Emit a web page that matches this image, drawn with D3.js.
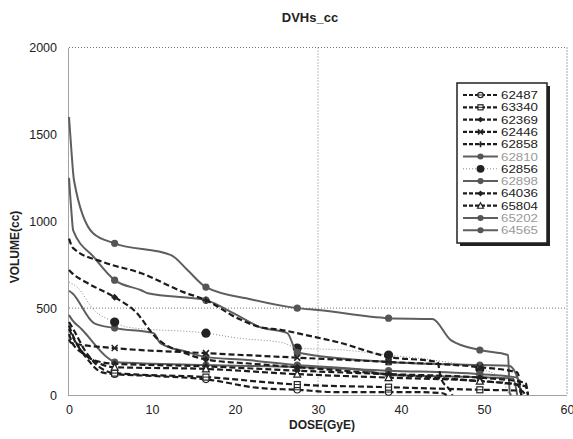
<!DOCTYPE html>
<html><head><meta charset="utf-8">
<script src="https://cdn.jsdelivr.net/npm/d3@7"></script>
<style>body{margin:0;background:#fff}svg{display:block}text{font-family:"Liberation Sans",Arial,sans-serif}</style>
</head><body><svg id="c" width="573" height="439"></svg>
<script>
// ---- data (dose GyE, volume cc) ----
const seriesNames = ["62487","63340","62369","62446","62858","62810","62856","62898","64036","65804","65202","64565"];
const seriesStyles = ["dash","dash","dash","dash","dash","solid","dot","solid","dash","dash","solid","solid"];
const seriesMarkers = ["ocircle","square","diamond","cross","plus","dotg","bigdot","dotg","diamond","triangle","dotg","dotg"];
const s62487 = [[0,380],[0.5,330],[2,220],[4,130],[5.5,120],[10,110],[16.5,90],[23,40],[27.5,30],[32,17],[38.5,17],[41.5,17],[45,10],[45.5,0]];
const s63340 = [[0,420],[0.5,380],[2,250],[4,150],[5.5,126],[16.5,103],[27.5,60],[38.5,45],[49.5,30],[54.5,25],[55,0]];
const s62369 = [[0,400],[0.4,350],[3,200],[5.5,180],[16.5,165],[27.5,140],[38.5,120],[49.5,100],[55,70],[55.3,0]];
const s62446 = [[0,320],[0.3,299],[5.5,270],[16.5,241],[27.5,215],[38.5,190],[49.5,160],[54,130],[54.5,0]];
const s62858 = [[0,900],[0.5,845],[4.2,764],[8.7,701],[13.8,592],[16.5,546],[20.3,442],[23,391],[25.5,375],[29,340],[32.3,305],[38.5,220],[44.4,190],[44.8,98],[46,20],[46.2,0]];
const s62810 = [[0,600],[0.4,586],[3,414],[5.5,385],[10.2,356],[11,299],[14.3,247],[16.5,218],[21.5,201],[27.5,172],[35.5,144],[38.5,115],[49.5,103],[53.5,95],[54,0]];
const s62856 = [[0,650],[1,620],[3,489],[5.5,420],[7,391],[16.5,356],[20.3,328],[25.8,300],[27.5,270],[33,259],[38.5,230],[44,200],[49.5,150],[52,100],[53,0]];
const s62898 = [[0,460],[0.4,431],[1.5,380],[4.7,213],[5.5,190],[16.5,172],[27.5,161],[38.5,140],[49.5,120],[54,100],[54.5,0]];
const s64036 = [[0,720],[0.4,700],[2,650],[5.5,563],[8,480],[10.5,330],[14,240],[16.5,205],[22,180],[27.5,160],[33,140],[38.5,120],[44,100],[49.5,80],[54,60],[54.5,0]];
const s65804 = [[0,350],[0.4,300],[2,230],[4,175],[5.5,160],[16.5,150],[27.5,120],[38.5,100],[49.5,80],[55,50],[55.3,0]];
const s65202 = [[0,1250],[0.3,1050],[0.5,948],[3,793],[5.5,661],[8.7,603],[9.5,586],[16.5,546],[19.8,471],[23,391],[26.3,356],[27.5,245],[38.5,190],[49.5,172],[53,168],[54,103],[54.5,0]];
const s64565 = [[0,1600],[0.3,1400],[0.6,1236],[2.9,931],[5.5,873],[12.3,805],[14.3,718],[16.5,621],[22,550],[27.5,500],[30,489],[38.5,442],[43.8,437],[46,316],[49.5,259],[52.9,230],[53.1,10],[53.3,0]];
const seriesData = [s62487,s63340,s62369,s62446,s62858,s62810,s62856,s62898,s64036,s65804,s65202,s64565];
const markerDoses = [5.5,16.5,27.5,38.5,49.5];
const xTicks = [0,10,20,30,40,50,60];
const yTicks = [0,500,1000,1500,2000];
const titleText = "DVHs_cc", xTitle = "DOSE(GyE)", yTitle = "VOLUME(cc)";

// ---- drawing ----
const svg = d3.select("#c");
const x = d3.scaleLinear().domain([0,60]).range([69,567]);
const y = d3.scaleLinear().domain([0,2000]).range([395,47.5]);

svg.append("text").attr("x",310).attr("y",22).attr("text-anchor","middle")
  .attr("font-size",13).attr("font-weight","bold").attr("fill","#222").text(titleText);

// frame & grid
const g = svg.append("g");
g.append("line").attr("x1",x(0)).attr("x2",x(60)).attr("y1",y(2000)).attr("y2",y(2000)).attr("stroke","#777").attr("stroke-dasharray","1,2");
g.append("line").attr("x1",x(60)).attr("x2",x(60)).attr("y1",y(2000)).attr("y2",y(0)).attr("stroke","#555").attr("stroke-dasharray","1,2");
g.append("line").attr("x1",x(30)).attr("x2",x(30)).attr("y1",y(2000)).attr("y2",y(0)).attr("stroke","#777").attr("stroke-dasharray","1,2");
g.append("line").attr("x1",x(0)).attr("x2",x(60)).attr("y1",y(500)).attr("y2",y(500)).attr("stroke","#777").attr("stroke-dasharray","1,2");

// axes
const xAxis = svg.append("g").attr("transform",`translate(0,${y(0)})`)
  .call(d3.axisBottom(x).tickValues(xTicks).tickFormat(d3.format("d")).tickSize(0).tickPadding(10));
const yAxis = svg.append("g").attr("transform",`translate(${x(0)-1},0)`)
  .call(d3.axisLeft(y).tickValues(yTicks).tickFormat(d3.format("d")).tickSize(0).tickPadding(11));
[xAxis,yAxis].forEach(a=>{
  a.select(".domain").attr("stroke","#444").attr("stroke-dasharray","1,1");
  a.selectAll("text").attr("font-size",12.5).attr("fill","#222").attr("font-family",'"Liberation Sans",Arial,sans-serif');
});
svg.append("text").attr("x",322).attr("y",429).attr("text-anchor","middle")
  .attr("font-size",12).attr("font-weight","bold").attr("fill","#222").text(xTitle);
svg.append("text").attr("transform","translate(19,247) rotate(-90)").attr("text-anchor","middle")
  .attr("font-size",12).attr("font-weight","bold").attr("fill","#222").text(yTitle);

function styleOf(s){
  if(s==="dash") return {stroke:"#1c1c1c",w:2.2,da:"6,3"};
  if(s==="solid") return {stroke:"#5e5e5e",w:2,da:null};
  return {stroke:"#8a8a8a",w:1,da:"1,2"};
}
function drawMarker(sel,type,cx,cy,scale){
  const k=scale||1;
  if(type==="ocircle"){sel.append("circle").attr("cx",cx).attr("cy",cy).attr("r",3.2*k).attr("fill","#fff").attr("stroke","#222").attr("stroke-width",1.2);
    sel.append("line").attr("x1",cx-3*k).attr("x2",cx+3*k).attr("y1",cy).attr("y2",cy).attr("stroke","#222");}
  else if(type==="square"){sel.append("rect").attr("x",cx-3*k).attr("y",cy-3*k).attr("width",6*k).attr("height",6*k).attr("fill","#fff").attr("stroke","#222").attr("stroke-width",1.2);
    sel.append("line").attr("x1",cx-3*k).attr("x2",cx+3*k).attr("y1",cy).attr("y2",cy).attr("stroke","#222");}
  else if(type==="diamond"){sel.append("path").attr("d",`M${cx},${cy-3.5*k}L${cx+3.5*k},${cy}L${cx},${cy+3.5*k}L${cx-3.5*k},${cy}Z`).attr("fill","#222");}
  else if(type==="cross"){sel.append("path").attr("d",`M${cx-3*k},${cy-3*k}L${cx+3*k},${cy+3*k}M${cx-3*k},${cy+3*k}L${cx+3*k},${cy-3*k}`).attr("stroke","#222").attr("stroke-width",1.5);}
  else if(type==="plus"){sel.append("path").attr("d",`M${cx-3.5*k},${cy}L${cx+3.5*k},${cy}M${cx},${cy-3.5*k}L${cx},${cy+3.5*k}`).attr("stroke","#222").attr("stroke-width",1.6);}
  else if(type==="triangle"){sel.append("path").attr("d",`M${cx},${cy-3.5*k}L${cx+3.5*k},${cy+3*k}L${cx-3.5*k},${cy+3*k}Z`).attr("fill","#fff").attr("stroke","#222").attr("stroke-width",1.2);}
  else if(type==="dotg"){sel.append("circle").attr("cx",cx).attr("cy",cy).attr("r",3.6*k).attr("fill","#555");}
  else if(type==="bigdot"){sel.append("circle").attr("cx",cx).attr("cy",cy).attr("r",4.6*k).attr("fill","#222");}
}

const line = d3.line().x(d=>x(d[0])).y(d=>y(d[1])).curve(d3.curveMonotoneX);
const plot = svg.append("g");
const order = d3.range(seriesNames.length).sort((a,b)=>(seriesStyles[a]==="dash")-(seriesStyles[b]==="dash"));
order.forEach(i=>{
  const st = styleOf(seriesStyles[i]);
  plot.append("path").datum(seriesData[i]).attr("d",line).attr("fill","none")
    .attr("stroke",st.stroke).attr("stroke-width",st.w).attr("stroke-dasharray",st.da)
    .attr("stroke-linejoin","round");
  const mg = plot.append("g");
  seriesData[i].filter(d=>markerDoses.includes(d[0]) && d[1]>0).forEach(d=>drawMarker(mg,seriesMarkers[i],x(d[0]),y(d[1])));
});

// legend
const lx=457, ly=83, lw=90, lh=160;
svg.append("rect").attr("x",lx+3).attr("y",ly+3).attr("width",lw).attr("height",lh).attr("fill","#222");
svg.append("rect").attr("x",lx).attr("y",ly).attr("width",lw).attr("height",lh).attr("fill","#fff").attr("stroke","#222").attr("stroke-width",1.5);
seriesNames.forEach((n,i)=>{
  const yy = ly+12+i*12.3;
  const st = styleOf(seriesStyles[i]);
  const lg = svg.append("g");
  lg.append("line").attr("x1",463).attr("x2",498).attr("y1",yy).attr("y2",yy)
    .attr("stroke",st.stroke).attr("stroke-width",st.w).attr("stroke-dasharray",st.da===null?null:(seriesStyles[i]==="dash"?"4,2":st.da));
  drawMarker(lg,seriesMarkers[i],480.5,yy,0.85);
  lg.append("text").attr("x",501).attr("y",yy+4).attr("font-size",10.5)
    .attr("textLength",37).attr("lengthAdjust","spacingAndGlyphs")
    .attr("fill",seriesStyles[i]==="solid"?"#9a9a9a":"#222").text(n);
});
</script></body></html>
